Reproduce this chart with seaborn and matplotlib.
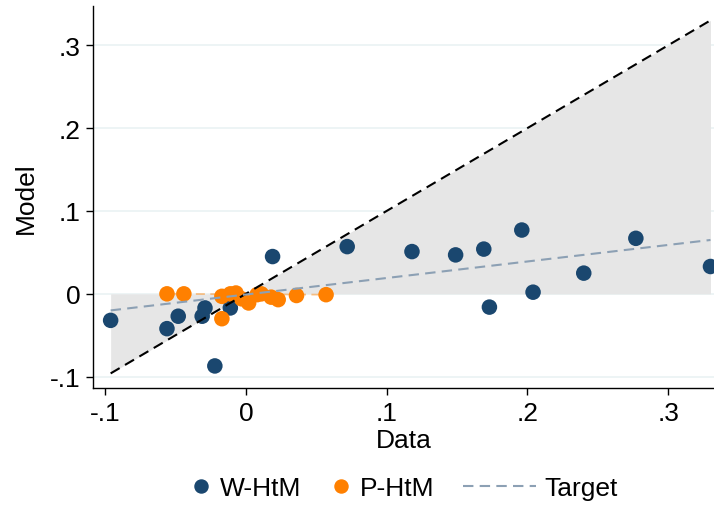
import pandas as pd
import matplotlib.pyplot as plt
import seaborn as sns
from matplotlib.lines import Line2D

# W-HtM punti (Data, Model)
w_data = [-0.096, -0.056, -0.048, -0.029, -0.031, -0.022, -0.011, 0.019, 0.072,
          0.118, 0.149, 0.169, 0.196, 0.173, 0.204, 0.240, 0.277, 0.330]
w_model = [-0.032, -0.042, -0.027, -0.017, -0.027, -0.087, -0.017, 0.045, 0.057,
           0.051, 0.047, 0.054, 0.077, -0.016, 0.002, 0.025, 0.067, 0.033]

# P-HtM punti
p_data = [-0.056, -0.044, -0.017, -0.017, -0.011, -0.007, -0.003, 0.002,
          0.008, 0.011, 0.018, 0.023, 0.036, 0.057]
p_model = [0.000, 0.000, -0.030, -0.003, 0.000, 0.001, -0.006, -0.011,
           -0.001, 0.000, -0.004, -0.007, -0.002, -0.001]

# linee
target_x = [-0.096, 0.330]
target_y = [-0.020, 0.065]
pfit_x = [-0.056, 0.057]
pfit_y = [0.000, -0.001]
diag_x = [-0.096, 0.330]

xticks = [-0.1, 0, 0.1, 0.2, 0.3]
xtick_labels = ['-.1', '0', '.1', '.2', '.3']
yticks = [-0.1, 0, 0.1, 0.2, 0.3]
ytick_labels = ['-.1', '0', '.1', '.2', '.3']

navy = '#1a476f'
orange = '#ff8000'
target_col = '#8ca0b4'
fs = 19

df = pd.DataFrame({
    'Data': w_data + p_data,
    'Model': w_model + p_model,
    'Group': ['W-HtM'] * len(w_data) + ['P-HtM'] * len(p_data),
})

sns.set_theme(style='white')
plt.rcParams['font.family'] = ['Liberation Sans', 'DejaVu Sans']
plt.rcParams['text.color'] = 'black'
plt.rcParams['axes.labelcolor'] = 'black'
plt.rcParams['xtick.color'] = 'black'
plt.rcParams['ytick.color'] = 'black'

fig = plt.figure(figsize=(7.14, 5.06), dpi=100)
ax = fig.add_axes([0.1307, 0.2306, 0.8693, 0.755])

# griglia orizzontale
for y in yticks:
    ax.axhline(y, color='#eaf2f3', lw=1.2, zorder=0)

# area grigia tra 0 e la diagonale
ax.fill_between(diag_x, [0, 0], diag_x, color='#e6e6e6', lw=0, zorder=1)

sns.lineplot(x=pfit_x, y=pfit_y, ax=ax, color=orange, alpha=0.45, lw=1.3,
             linestyle=(0, (5, 3)), zorder=2)
sns.scatterplot(data=df, x='Data', y='Model', hue='Group',
                palette={'W-HtM': navy, 'P-HtM': orange},
                s=125, edgecolor='none', ax=ax, legend=False, zorder=3)
sns.lineplot(x=diag_x, y=diag_x, ax=ax, color='black', lw=1.5,
             linestyle=(0, (5, 3)), zorder=4)
sns.lineplot(x=target_x, y=target_y, ax=ax, color=target_col, lw=1.5,
             linestyle=(0, (5, 3)), zorder=4)

ax.set_xlim(-0.1083, 0.3325)
ax.set_ylim(-0.114, 0.347)
ax.set_xticks(xticks)
ax.set_xticklabels(xtick_labels)
ax.set_yticks(yticks)
ax.set_yticklabels(ytick_labels)
ax.tick_params(axis='both', labelsize=fs, length=5, width=1, color='black',
               direction='out', left=True, bottom=True, pad=4)
ax.set_xlabel('Data', fontsize=fs, labelpad=2)
ax.set_ylabel('Model', fontsize=fs, labelpad=9)
for side in ['top', 'right']:
    ax.spines[side].set_visible(False)
for side in ['left', 'bottom']:
    ax.spines[side].set_color('black')
    ax.spines[side].set_linewidth(1)

# legenda: punti e linea in due blocchi
dot_handles = [
    Line2D([], [], marker='o', color=navy, linestyle='none', markersize=9.4),
    Line2D([], [], marker='o', color=orange, linestyle='none', markersize=9.4),
]
leg1 = fig.legend(dot_handles, ['W-HtM', 'P-HtM'], loc='center left',
                  bbox_to_anchor=(0.2719, 0.034), ncol=2, frameon=False,
                  fontsize=fs, handlelength=0.5, handletextpad=0.48,
                  columnspacing=1.24, borderpad=0, borderaxespad=0)
line_handle = [Line2D([], [], color=target_col, lw=1.5, linestyle=(0, (5, 3)))]
fig.legend(line_handle, ['Target'], loc='center left',
           bbox_to_anchor=(0.648, 0.034), frameon=False, fontsize=fs,
           handlelength=2.77, handletextpad=0.34, borderpad=0, borderaxespad=0)

plt.savefig('out.png', dpi=100)
